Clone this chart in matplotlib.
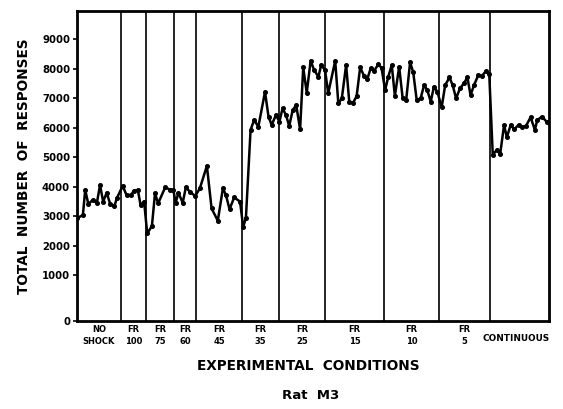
import matplotlib
matplotlib.use("Agg")
import matplotlib.pyplot as plt

# session position and total responses
days = [0.0, 1.5, 2.1, 2.9, 4.0, 5.1, 5.9, 6.7, 7.6, 8.5, 9.6, 10.2,
        11.7, 12.7, 13.8, 14.6, 15.6, 16.3, 17.2,
        18.0, 19.2, 20.0, 20.8, 22.6, 23.8,
        24.7, 25.3, 26.0, 27.1, 27.9, 29.0, 30.3,
        31.5, 33.3, 34.5, 36.1, 37.4, 38.2, 39.1, 40.3, 41.8,
        42.6, 43.3, 44.5, 45.4, 46.5, 48.2, 49.1, 49.9, 51.0,
        51.9, 52.7, 53.6, 54.4, 55.3, 56.2, 57.2, 58.0, 58.9, 59.9, 60.8, 61.9, 62.6,
        63.6, 64.4, 66.2, 67.0, 67.9, 69.0, 69.8, 70.8, 71.7, 72.6, 73.6, 74.4, 75.3, 76.2, 77.3, 78.1,
        79.0, 79.8, 80.7, 81.5, 82.6, 83.5, 84.4, 85.4, 86.2, 87.1, 88.1, 89.0, 89.8, 90.7, 91.5, 92.4,
        93.5, 94.4, 95.5, 96.3, 97.2, 98.2, 99.2, 100.1, 100.9, 101.8, 102.9, 103.8, 104.9, 105.7,
        106.6, 107.6, 108.5, 109.5, 110.2, 111.2, 112.1, 113.2, 114.1, 115.1, 116.3, 117.4, 118.0, 119.2, 120.4]
responses = [2930, 3030, 3880, 3410, 3540, 3450, 4050, 3490, 3790, 3410, 3340, 3600,
             4020, 3710, 3710, 3860, 3880, 3370, 3490,
             2410, 2660, 3770, 3430, 3970, 3900,
             3880, 3450, 3790, 3450, 3970, 3820, 3680,
             3940, 4700, 3260, 2840, 3940, 3710, 3230, 3630, 3490,
             2640, 2920, 5920, 6250, 6030, 7210, 6370, 6090, 6420,
             6200, 6650, 6420, 6050, 6590, 6760, 5940, 8040, 7180, 8260, 7950, 7720, 8120,
             7950, 7160, 8260, 6820, 6990, 8120, 6880, 6840, 7070, 8040, 7750, 7630, 8010, 7930, 8150, 8010,
             7270, 7720, 8120, 7070, 8060, 6990, 6930, 8210, 7880, 6930, 6990, 7440, 7270, 6880, 7380, 7210,
             6690, 7440, 7700, 7440, 6990, 7330, 7500, 7700, 7100, 7440, 7780, 7750, 7920, 7810,
             5070, 5240, 5100, 6090, 5670, 6090, 5940, 6090, 6010, 6050, 6350, 5920, 6250, 6370, 6200]

# condition boundaries (in sessions) and labels
boundaries = [11.3, 17.7, 24.9, 30.5, 42.3, 51.8, 63.6, 78.7, 92.8, 105.9]
conditions = ["NO\nSHOCK", "FR\n100", "FR\n75", "FR\n60", "FR\n45", "FR\n35",
              "FR\n25", "FR\n15", "FR\n10", "FR\n5", "CONTINUOUS"]
x_end = 121.0
y_ticks = [1000, 2000, 3000, 4000, 5000, 6000, 7000, 8000, 9000]
y_bottom = -560

fig = plt.figure(figsize=(5.63, 4.09), dpi=100)
ax = fig.add_axes([0.1368, 0.215, 0.8382, 0.758])

for b in boundaries:
    ax.axvline(b, color="black", lw=1.2, zorder=1)

ax.plot(days, responses, color="black", lw=1.8, marker="o", markersize=2.6, zorder=3)

ax.set_xlim(0, x_end)
ax.set_ylim(y_bottom, 9950)
ax.set_xticks([])
ax.set_yticks([y_bottom] + y_ticks)
ax.set_yticklabels(["0"] + [str(t) for t in y_ticks], fontsize=7.3, fontweight="bold")
ax.tick_params(axis="y", length=3, width=1.2, pad=2)
for s in ax.spines.values():
    s.set_linewidth(2)

edges = [0] + boundaries + [x_end]
for i, lab in enumerate(conditions):
    xc = (edges[i] + edges[i + 1]) / 2
    if lab == "CONTINUOUS":
        ax.text(xc - 0.9, -0.055, lab, transform=ax.get_xaxis_transform(), ha="center",
                va="center", fontsize=6.4, fontweight="bold")
    else:
        ax.text(xc, -0.014, lab, transform=ax.get_xaxis_transform(), ha="center", va="top",
                fontsize=6.0, fontweight="bold", linespacing=1.3)

ax.set_ylabel("TOTAL  NUMBER  OF  RESPONSES", fontsize=9.8, fontweight="bold", labelpad=8)
fig.text(0.547, 0.105, "EXPERIMENTAL  CONDITIONS", ha="center", va="center",
         fontsize=9.8, fontweight="bold")
fig.text(0.552, 0.033, "Rat  M3", ha="center", va="center", fontsize=9.5, fontweight="bold")

fig.savefig("out.png", dpi=100)
